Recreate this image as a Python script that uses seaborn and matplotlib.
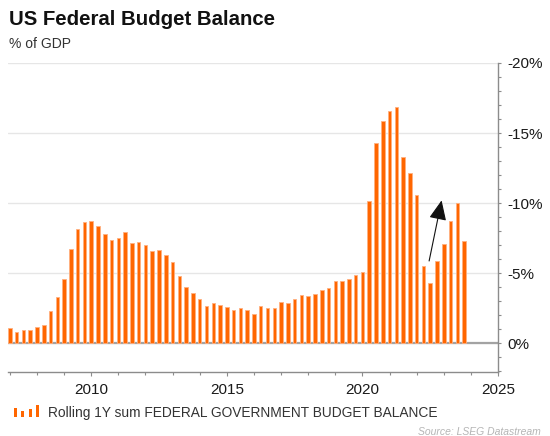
import numpy as np
import pandas as pd
import matplotlib
matplotlib.use("Agg")
import matplotlib.pyplot as plt
import seaborn as sns
from matplotlib.legend_handler import HandlerBase
from matplotlib.patches import Rectangle

# ---- data ----
start_year = 2007.0
deficit_pct = [1.11, 0.83, 0.95, 0.95, 1.16, 1.33, 2.28, 3.32, 4.60, 6.74,
               8.16, 8.66, 8.73, 8.40, 7.78, 7.40, 7.54, 7.94, 7.19, 7.23,
               7.02, 6.57, 6.69, 6.28, 5.81, 4.80, 4.03, 3.58, 3.15, 2.68,
               2.87, 2.73, 2.58, 2.39, 2.53, 2.35, 2.09, 2.65, 2.51, 2.51,
               2.96, 2.89, 3.20, 3.44, 3.37, 3.49, 3.79, 3.96, 4.46, 4.46,
               4.58, 4.85, 5.10, 10.15, 14.28, 15.84, 16.55, 16.84, 13.33, 12.17,
               10.58, 5.52, 4.34, 5.86, 7.07, 8.70, 10.04, 7.33]
balance = [-v for v in deficit_pct]
dates = start_year + np.arange(len(balance)) * 0.25
xtick_years = [2010, 2015, 2020, 2025]
ytick_vals = [-20, -15, -10, -5, 0]
title = "US Federal Budget Balance"
subtitle = "% of GDP"
series_label = "Rolling 1Y sum FEDERAL GOVERNMENT BUDGET BALANCE"
source = "Source: LSEG Datastream"
arrow_from = (2022.46, -5.88)
arrow_to = (2022.92, -10.2)

df = pd.DataFrame({"date": dates, "balance": balance})

sns.set_theme(style="white")
plt.rcParams["font.family"] = ["Liberation Sans", "DejaVu Sans"]

ORANGE = "#FF6600"
W, H = 550, 436
fig = plt.figure(figsize=(W / 100, H / 100), dpi=100)
ax = fig.add_axes([8 / W, 1 - 372 / H, (498 - 8) / W, (372 - 63) / H])

sns.barplot(data=df, x="date", y="balance", native_scale=True, orient="x",
            width=0.52, color=ORANGE, saturation=1, linewidth=0.6,
            edgecolor="#FFB080", ax=ax, zorder=3)

ax.set_xlim(2006.93, 2025.0)
ax.set_ylim(2.04, -20)
ax.set_xlabel("")
ax.set_ylabel("")

ax.set_xticks(xtick_years)
ax.set_xticks(range(2007, 2026), minor=True)
ax.set_xticklabels([str(y) for y in xtick_years])

ax.yaxis.tick_right()
ax.set_yticks(ytick_vals)
ax.set_yticks(range(-19, 3), minor=True)
ax.set_yticklabels([f"{v}%" for v in ytick_vals])

ax.grid(axis="y", which="major", color="#e6e6e6", lw=1, zorder=0)
ax.axhline(0, color="#a3a3a3", lw=1.6, zorder=2)

for s in ["left", "top"]:
    ax.spines[s].set_visible(False)
for s in ["right", "bottom"]:
    ax.spines[s].set_visible(True)
    ax.spines[s].set_color("#8c8c8c")
    ax.spines[s].set_linewidth(1.0)

ax.tick_params(axis="x", which="major", direction="out", length=3, width=0.8,
               color="#8c8c8c", pad=5, labelsize=11, labelcolor="#1a1a1a", bottom=True)
ax.tick_params(axis="x", which="minor", direction="out", length=2, width=0.8,
               color="#8c8c8c", bottom=True)
ax.tick_params(axis="y", which="major", direction="out", length=2.5, width=0.8,
               color="#8c8c8c", pad=4, labelsize=11, labelcolor="#1a1a1a",
               right=True, left=False)
ax.tick_params(axis="y", which="minor", direction="out", length=2, width=0.8,
               color="#8c8c8c", right=True, left=False)

ax.annotate("", xy=arrow_to, xytext=arrow_from,
            arrowprops=dict(arrowstyle="-|>,head_length=0.45,head_width=0.2",
                            color="#111111", lw=0.8, mutation_scale=27,
                            shrinkA=0, shrinkB=0), zorder=5)

fig.text(9 / W, 1 - 25 / H, title, fontsize=14.7, fontweight="bold",
         color="#111111", va="baseline", ha="left")
fig.text(9 / W, 1 - 48 / H, subtitle, fontsize=10, color="#333333",
         va="baseline", ha="left")


class HandlerBars(HandlerBase):
    def create_artists(self, legend, orig_handle, xdescent, ydescent,
                       width, height, fontsize, trans):
        fracs = [0.8, 0.5, 0.7, 1.0]
        n = len(fracs)
        bw = width * 0.13
        arts = []
        for i, f in enumerate(fracs):
            x0 = -xdescent + i * (width - bw) / (n - 1)
            r = Rectangle((x0, -ydescent), bw, height * 1.2 * f,
                          facecolor=ORANGE, edgecolor="none", transform=trans)
            arts.append(r)
        return arts


handle = Rectangle((0, 0), 1, 1, color=ORANGE)
fig.legend([handle], [series_label], handler_map={Rectangle: HandlerBars()},
           loc="center left", bbox_to_anchor=(11 / W, 1 - 413 / H),
           frameon=False, fontsize=9.9, handlelength=1.85, handletextpad=0.65,
           labelcolor="#333333", borderaxespad=0, borderpad=0.2)

fig.text(418 / W, 1 - 435 / H, source, fontsize=7.5, style="italic",
         color="#b5b5b5", va="baseline", ha="left")

fig.savefig("out.png", dpi=100)
